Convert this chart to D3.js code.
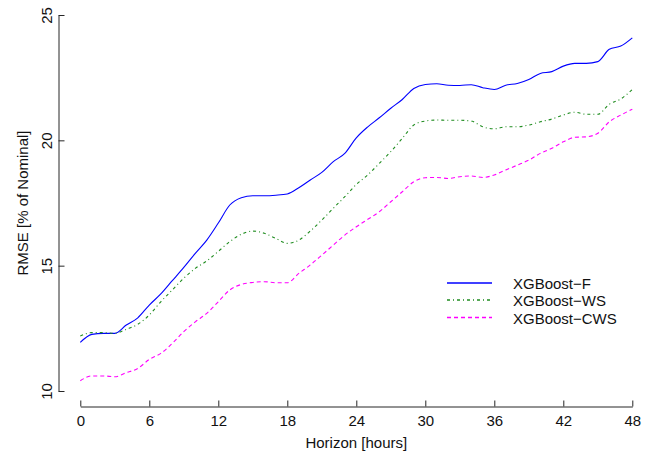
<!DOCTYPE html>
<html><head><meta charset="utf-8">
<script src="https://cdn.jsdelivr.net/npm/d3@7"></script>
<style>body{margin:0;background:#fff}svg{display:block;font-family:"Liberation Sans",Arial,sans-serif}</style>
</head><body><svg id="c" width="656" height="455"></svg>
<script>
const hours = d3.range(0, 49);
const xTicks = [0, 6, 12, 18, 24, 30, 36, 42, 48];
const yTicks = [10, 15, 20, 25];
const seriesNames = ["XGBoost\u2212F", "XGBoost\u2212WS", "XGBoost\u2212CWS"];
const valuesF = [11.94,12.26,12.30,12.30,12.63,12.92,13.43,13.87,14.40,14.93,15.49,16.02,16.70,17.42,17.71,17.79,17.79,17.81,17.86,18.11,18.42,18.72,19.15,19.48,20.10,20.54,20.90,21.28,21.63,22.07,22.23,22.26,22.20,22.19,22.22,22.10,22.03,22.20,22.27,22.43,22.67,22.74,22.96,23.07,23.07,23.14,23.63,23.76,24.09];
const valuesWS = [12.19,12.33,12.33,12.30,12.46,12.66,13.03,13.56,14.03,14.50,14.89,15.19,15.57,15.96,16.25,16.38,16.29,16.09,15.89,16.02,16.38,16.82,17.29,17.75,18.24,18.62,19.08,19.55,20.08,20.61,20.77,20.81,20.80,20.80,20.77,20.54,20.46,20.54,20.54,20.61,20.74,20.85,21.01,21.12,21.04,21.04,21.44,21.65,22.03];
const valuesCWS = [10.41,10.60,10.60,10.57,10.73,10.90,11.26,11.50,11.90,12.37,12.76,13.10,13.56,14.03,14.25,14.33,14.36,14.32,14.32,14.69,15.03,15.42,15.82,16.22,16.55,16.85,17.15,17.55,17.95,18.35,18.51,18.52,18.48,18.55,18.58,18.52,18.62,18.82,19.01,19.21,19.48,19.68,19.94,20.12,20.14,20.28,20.74,21.01,21.24];

const svg = d3.select("#c");
const x = d3.scaleLinear().domain([0, 48]).range([80.3, 632.3]);
const y = d3.scaleLinear().domain([10, 25]).range([391, 15]);
const axisColor = "#262626";

// x axis
const gx = svg.append("g").attr("transform", "translate(0,406.5)");
gx.call(d3.axisBottom(x).tickValues(xTicks).tickSize(-6).tickPadding(8.5).tickSizeOuter(0));
gx.select(".domain").attr("stroke", axisColor);
gx.selectAll(".tick line").attr("stroke", axisColor);
gx.selectAll(".tick text").attr("font-size", 15).attr("fill", "#111").attr("font-family", "Liberation Sans, Arial, sans-serif");

// y axis
const gy = svg.append("g").attr("transform", "translate(58.5,0)");
gy.call(d3.axisLeft(y).tickValues(yTicks).tickSize(-6).tickSizeOuter(0).tickFormat(d3.format("d")));
gy.select(".domain").attr("stroke", axisColor);
gy.selectAll(".tick line").attr("stroke", axisColor);
gy.selectAll(".tick text").attr("font-size", 15).attr("fill", "#111").attr("font-family", "Liberation Sans, Arial, sans-serif")
  .attr("x", null).attr("dy", null)
  .attr("text-anchor", "middle")
  .attr("transform", "translate(-6.5,0) rotate(-90)");

// axis titles
svg.append("text").attr("x", (80.3 + 632.3) / 2).attr("y", 448).attr("text-anchor", "middle")
  .attr("font-size", 15).attr("fill", "#111").text("Horizon [hours]");
svg.append("text").attr("transform", "translate(28,203) rotate(-90)").attr("text-anchor", "middle")
  .attr("font-size", 15).attr("fill", "#111").text("RMSE [% of Nominal]");

const series = [
  {name: seriesNames[0], values: valuesF, color: "#0000ff", dash: null},
  {name: seriesNames[1], values: valuesWS, color: "#1f8c1f", dash: "3,3,1,3"},
  {name: seriesNames[2], values: valuesCWS, color: "#ff00ff", dash: "4,3"}
];
const line = d3.line().x((d, i) => x(hours[i])).y(d => y(d)).curve(d3.curveMonotoneX);
series.forEach(s => {
  svg.append("path").attr("d", line(s.values)).attr("fill", "none")
    .attr("stroke", s.color).attr("stroke-width", 1.1)
    .attr("stroke-dasharray", s.dash);
});

// legend
const legY = [283, 300, 317.5];
series.forEach((s, i) => {
  svg.append("path").attr("d", d3.line()([[447, legY[i]], [492, legY[i]]]))
    .attr("fill", "none").attr("stroke", s.color).attr("stroke-width", 1.3).attr("stroke-dasharray", s.dash);
  svg.append("text").attr("x", 513).attr("y", Math.round(legY[i]) + 6).attr("font-size", 15).attr("fill", "#111").text(s.name);
});
</script></body></html>
